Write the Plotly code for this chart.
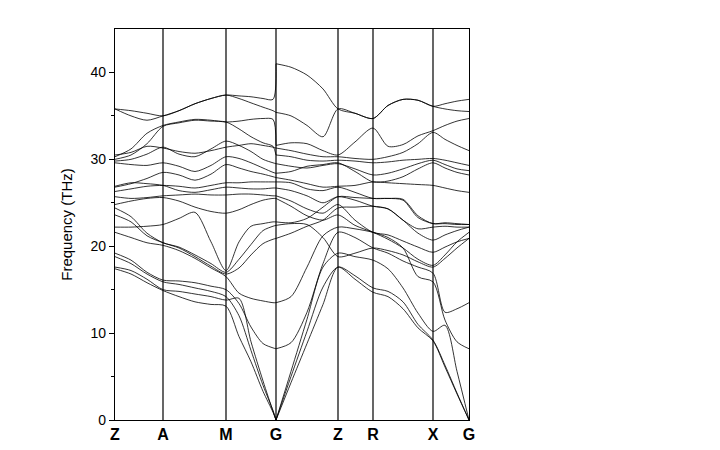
import plotly.graph_objects as go

# path coordinates (arbitrary units along the k-path)
labels = ["Z", "A", "M", "G", "Z", "R", "X", "G"]
label_pos = [0, 48, 111, 161, 223, 258, 318, 354]

# sampling points: Z-A-M-G  and  G-Z-R-X-G
k_left = [0, 16, 32, 48, 64, 80, 96, 111, 124, 136, 148, 158, 161]
k_right = [161, 176, 192, 208, 223, 240, 258, 273, 288, 303, 318, 330, 342, 354]

# frequencies (THz) read along Z-A-M-G, one row per branch
freq_left = [
    [17.4, 16.8, 15.8, 14.9, 14.2, 13.6, 13.3, 13.1, 9.6, 6.7, 3.3, 0.9, 0],
    [17.6, 17.2, 16.2, 15.0, 14.8, 14.5, 14.2, 13.8, 14.0, 9.0, 4.5, 1.0, 0],
    [18.8, 18.0, 16.8, 15.9, 15.6, 15.2, 14.8, 14.2, 12.0, 8.0, 4.0, 1.1, 0],
    [19.2, 18.4, 17.0, 16.1, 16.0, 15.8, 15.4, 15.0, 13.4, 10.7, 8.8, 8.3, 8.2],
    [21.6, 21.0, 20.4, 20.1, 19.5, 18.6, 17.5, 16.5, 14.6, 14.0, 13.7, 13.5, 13.5],
    [23.6, 22.8, 21.2, 20.4, 19.8, 18.8, 17.7, 16.8, 17.5, 19.0, 20.3, 20.8, 20.9],
    [22.2, 22.2, 22.3, 22.5, 23.2, 23.9, 20.5, 17.2, 20.5, 22.3, 22.6, 22.8, 22.8],
    [24.4, 23.4, 21.5, 20.4, 19.9, 19.0, 18.0, 17.0, 18.5, 20.2, 21.8, 22.3, 22.4],
    [24.8, 25.2, 25.5, 25.6, 25.2, 24.5, 24.0, 23.8, 24.2, 24.8, 25.3, 25.5, 25.5],
    [25.7, 25.5, 25.6, 25.8, 25.9, 26.0, 25.9, 25.9, 26.0, 26.0, 25.9, 25.8, 25.8],
    [26.3, 26.6, 26.9, 27.0, 26.9, 26.7, 27.0, 27.3, 27.3, 27.4, 27.4, 27.4, 27.4],
    [26.8, 27.2, 27.8, 28.5, 28.2, 27.6, 28.3, 29.4, 29.0, 28.6, 28.3, 28.0, 27.9],
    [29.6, 29.4, 29.3, 29.6, 29.2, 28.6, 29.3, 30.3, 30.1, 29.6, 29.0, 28.5, 28.4],
    [29.8, 30.0, 30.6, 31.4, 30.6, 30.3, 31.2, 32.1, 31.6, 30.9, 30.0, 29.6, 29.5],
    [30.0, 30.5, 31.8, 33.8, 34.2, 34.5, 34.4, 34.3, 33.5, 32.6, 31.9, 31.5, 30.5],
    [30.3, 31.2, 33.0, 33.9, 34.3, 34.6, 34.5, 34.3, 34.4, 34.6, 34.7, 34.6, 31.6],
    [35.8, 35.0, 34.5, 35.0, 35.6, 36.4, 37.0, 37.4, 37.0, 36.5, 36.0, 35.6, 35.4],
    [35.8, 35.6, 35.3, 35.0, 35.6, 36.4, 37.0, 37.4, 37.3, 37.2, 37.0, 36.9, 41.0],
    [30.5, 30.8, 31.5, 31.3, 30.9, 30.7, 31.0, 31.4, 31.6, 31.8, 31.6, 31.4, 31.3],
    [26.9, 27.3, 27.2, 27.0, 26.4, 26.2, 26.5, 26.8, 26.7, 26.6, 26.6, 26.7, 26.7],
]

# frequencies (THz) read along G-Z-R-X-G, same branch order
freq_right = [
    [0, 4.3, 8.8, 13.3, 17.6, 16.6, 15.2, 14.8, 13.6, 11.0, 9.2, 6.3, 3.1, 0],
    [0, 5.0, 10.2, 15.3, 17.6, 16.2, 14.7, 14.2, 12.8, 10.6, 9.1, 6.1, 3.0, 0],
    [0, 5.6, 11.6, 17.6, 19.2, 18.8, 18.4, 17.4, 15.2, 12.3, 10.2, 10.9, 5.6, 0],
    [8.2, 8.9, 12.4, 18.0, 21.6, 21.0, 19.8, 19.2, 18.3, 17.6, 16.9, 12.4, 12.8, 13.5],
    [13.5, 14.2, 17.6, 21.2, 22.2, 22.0, 21.6, 21.0, 19.8, 16.5, 15.9, 11.5, 9.0, 8.2],
    [20.9, 21.5, 22.3, 23.0, 24.4, 24.5, 24.6, 24.3, 23.0, 22.0, 22.2, 22.3, 22.2, 22.2],
    [22.8, 22.7, 23.2, 24.5, 25.7, 25.6, 25.5, 25.5, 25.3, 23.3, 22.6, 22.6, 22.5, 22.5],
    [22.4, 22.6, 22.5, 21.0, 18.8, 19.2, 19.8, 19.5, 19.0, 18.2, 17.6, 18.6, 19.8, 20.9],
    [25.5, 24.6, 23.5, 23.0, 23.6, 22.4, 21.6, 20.8, 19.8, 18.5, 17.8, 19.0, 20.5, 21.6],
    [25.8, 25.2, 24.3, 23.8, 24.8, 23.0, 21.6, 21.3, 20.6, 19.9, 19.3, 19.9, 20.5, 20.9],
    [27.4, 27.3, 26.6, 26.4, 26.8, 26.2, 25.5, 25.5, 25.4, 23.5, 22.6, 22.7, 22.6, 22.5],
    [27.9, 27.6, 27.2, 26.8, 26.9, 27.0, 27.4, 27.3, 27.2, 27.1, 27.0, 26.7, 26.4, 26.2],
    [28.4, 28.6, 29.2, 29.4, 29.6, 28.6, 27.4, 27.5, 28.0, 28.9, 29.6, 29.0, 28.5, 28.2],
    [29.5, 29.2, 29.0, 29.3, 29.5, 28.9, 28.2, 28.4, 28.9, 29.5, 29.9, 29.4, 28.9, 28.7],
    [30.5, 30.3, 29.9, 29.8, 29.9, 29.8, 29.6, 29.7, 29.9, 30.0, 30.1, 29.9, 29.6, 29.3],
    [31.6, 31.9, 31.8, 31.0, 30.5, 32.0, 33.6, 31.5, 31.7, 32.7, 33.3, 33.9, 34.4, 34.7],
    [35.4, 35.0, 33.9, 32.6, 35.8, 35.3, 34.7, 36.2, 36.9, 36.8, 36.1, 35.8, 35.6, 35.5],
    [41.0, 40.6, 39.7, 38.1, 35.8, 35.3, 34.7, 36.2, 36.9, 36.8, 36.1, 36.4, 36.7, 36.9],
    [31.3, 31.0, 30.6, 30.3, 30.3, 30.1, 30.0, 30.3, 30.8, 31.8, 33.1, 32.3, 31.6, 31.0],
    [26.7, 26.4, 25.8, 25.0, 25.7, 25.3, 24.6, 24.3, 23.0, 21.5, 20.7, 21.3, 21.8, 22.2],
]

fig = go.Figure()

for fl, fr in zip(freq_left, freq_right):
    fig.add_trace(go.Scatter(
        x=k_left + [None] + k_right,
        y=fl + [None] + fr,
        mode="lines",
        line=dict(color="black", width=0.8, shape="spline", smoothing=0.8),
        connectgaps=False,
        showlegend=False,
        hoverinfo="skip",
    ))

# vertical lines at the high-symmetry points
for p in label_pos[1:-1]:
    fig.add_shape(type="line", x0=p, x1=p, y0=0, y1=1, yref="y domain",
                  line=dict(color="black", width=1.2))

# the page body adds an 8px offset, so margins are 8px smaller on the left/top
fig.update_layout(
    width=720, height=450,
    margin=dict(l=107, r=259, t=21, b=38),
    paper_bgcolor="white", plot_bgcolor="white",
    font=dict(family="Liberation Sans, Arial, sans-serif", color="black"),
)
fig.update_xaxes(
    range=[0, 354], tickmode="array", tickvals=label_pos,
    ticktext=["<b>%s</b>" % s for s in labels], tickfont=dict(size=16),
    ticks="", showgrid=False, zeroline=False,
    showline=True, linecolor="black", linewidth=1.2, mirror=True,
)
fig.update_yaxes(
    range=[0, 45], tickvals=[0, 10, 20, 30, 40], ticks="outside",
    ticklen=5, tickwidth=1, tickcolor="black", tickfont=dict(size=14),
    minor=dict(tickvals=[5, 15, 25, 35], ticks="outside", ticklen=3, tickcolor="black"),
    title=dict(text="Frequency (THz)", font=dict(size=15), standoff=14),
    showgrid=False, zeroline=False,
    showline=True, linecolor="black", linewidth=1.2, mirror=True,
)

fig.write_html("out.html")
